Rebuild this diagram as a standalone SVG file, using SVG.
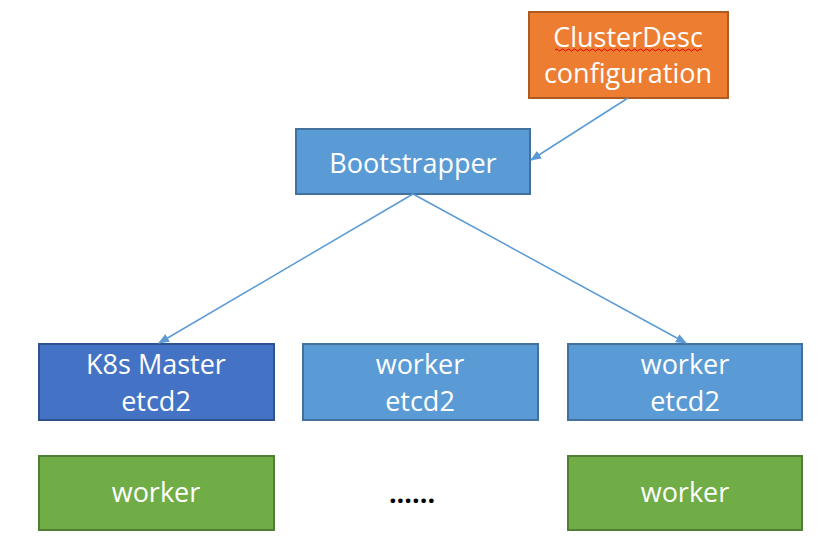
<svg xmlns="http://www.w3.org/2000/svg" width="826" height="558" viewBox="0 0 826 558">
<defs>
<marker id="arr" markerWidth="11" markerHeight="9" refX="10" refY="4.5" orient="auto" markerUnits="userSpaceOnUse">
<path d="M0,0 L11,4.5 L0,9 Z" fill="#5B9BD5"/>
</marker>
<style>
.t{font-family:"Open Sans","Noto Sans",sans-serif;font-size:27px;fill:#ffffff;text-anchor:middle}
.orange{fill:#ED7D31;stroke:#AE5A21;stroke-width:2}
.blue{fill:#5B9BD5;stroke:#41719C;stroke-width:2}
.dblue{fill:#4472C4;stroke:#2F528F;stroke-width:2}
.green{fill:#70AD47;stroke:#507E32;stroke-width:2}
.c{stroke:#5B9BD5;stroke-width:1.5;fill:none;marker-end:url(#arr)}
</style>
</defs>
<rect width="826" height="558" fill="#ffffff"/>
<g id="clusterdesc">
<rect class="orange" x="529" y="12" width="199" height="86"/>
<text class="t" x="628" y="47">ClusterDesc</text>
<path d="M555,50 q1.5,-2 3,0 t3,0 t3,0 t3,0 t3,0 t3,0 t3,0 t3,0 t3,0 t3,0 t3,0 t3,0 t3,0 t3,0 t3,0 t3,0 t3,0 t3,0 t3,0 t3,0 t3,0 t3,0 t3,0 t3,0 t3,0 t3,0 t3,0 t3,0 t3,0 t3,0 t3,0 t3,0 t3,0 t3,0 t3,0 t3,0 t3,0 t3,0 t3,0 t3,0 t3,0 t3,0 t3,0 t3,0 t3,0 t3,0 t3,0 t3,0 t3,0" fill="none" stroke="#E00000" stroke-width="1"/>
<text class="t" x="628" y="83">configuration</text>
</g>
<g id="bootstrapper">
<rect class="blue" x="296" y="129" width="234" height="65"/>
<text class="t" x="413" y="173">Bootstrapper</text>
</g>
<g id="master">
<rect class="dblue" x="39" y="344" width="235" height="76"/>
<text class="t" x="156" y="374">K8s Master</text>
<text class="t" x="156" y="411">etcd2</text>
</g>
<g id="worker-etcd-1">
<rect class="blue" x="303" y="344" width="235" height="76"/>
<text class="t" x="420" y="374">worker</text>
<text class="t" x="420" y="411">etcd2</text>
</g>
<g id="worker-etcd-2">
<rect class="blue" x="568" y="344" width="234" height="76"/>
<text class="t" x="685" y="374">worker</text>
<text class="t" x="685" y="411">etcd2</text>
</g>
<g id="worker-1">
<rect class="green" x="39" y="456" width="235" height="74"/>
<text class="t" x="156" y="502">worker</text>
</g>
<g id="dots">
<text x="412" y="503" style="font-family:'Open Sans','Noto Sans',sans-serif;font-size:27px;font-weight:bold;fill:#000000;text-anchor:middle">......</text>
</g>
<g id="worker-2">
<rect class="green" x="568" y="456" width="234" height="74"/>
<text class="t" x="685" y="502">worker</text>
</g>
<g id="connectors">
<line class="c" x1="628" y1="98" x2="531" y2="160"/>
<line class="c" x1="413" y1="194" x2="159" y2="343"/>
<line class="c" x1="413" y1="194" x2="686" y2="343"/>
</g>
</svg>
